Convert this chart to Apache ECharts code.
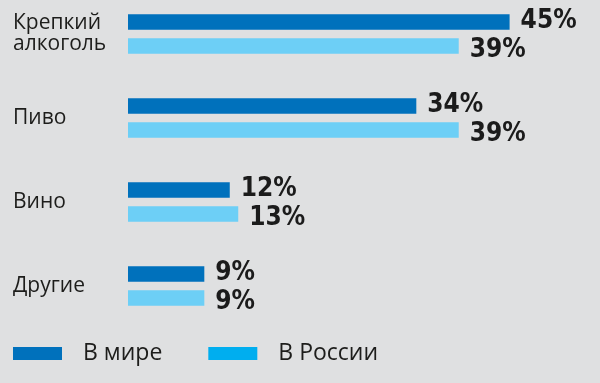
<!DOCTYPE html>
<html>
<head>
<meta charset="utf-8">
<script src="https://cdn.jsdelivr.net/npm/echarts@6/dist/echarts.min.js"></script>
<style>
html,body{margin:0;padding:0;background:#dfe0e1;}
#c{width:600px;height:383px;}
</style>
</head>
<body>
<div id="c"></div>
<script>
const categories = ['Крепкий\nалкоголь', 'Пиво', 'Вино', 'Другие'];
const seriesNames = ['В мире', 'В России'];
const world = [45, 34, 12, 9];
const russia = [39, 39, 13, 9];

const chart = echarts.init(document.getElementById('c'));
const labelFont = {
  show: true,
  position: 'right',
  distance: 11,
  formatter: '{c}%',
  fontFamily: 'DejaVu Sans Condensed',
  fontWeight: 'bold',
  fontSize: 26,
  color: '#1b1b1b'
};
chart.setOption({
  backgroundColor: '#dfe0e1',
  animation: false,
  grid: { left: 128, width: 424, top: 34, bottom: 97, containLabel: false },
  xAxis: { type: 'value', min: 0, max: 50, show: false },
  yAxis: {
    type: 'category',
    data: categories,
    inverse: true,
    boundaryGap: false,
    axisLine: { show: false },
    axisTick: { show: false },
    splitLine: { show: false },
    axisLabel: {
      align: 'left',
      margin: 115,
      fontFamily: 'Open Sans',
      fontSize: 21,
      lineHeight: 21,
      color: '#1d1d1b'
    }
  },
  legend: {
    left: 13,
    top: 342,
    padding: 0,
    itemWidth: 49,
    itemHeight: 13,
    itemGap: 46,
    icon: 'rect',
    textStyle: { fontFamily: 'Open Sans', fontSize: 23, color: '#1d1d1b', padding: [0, 0, 0, 16] },
    data: [
      { name: seriesNames[0], itemStyle: { color: '#0071bc' } },
      { name: seriesNames[1], itemStyle: { color: '#00aeef' } }
    ]
  },
  series: [
    {
      name: seriesNames[0], type: 'bar', data: world,
      barWidth: 15.5, barGap: '55%',
      itemStyle: { color: '#0071bc' },
      label: Object.assign({}, labelFont, { offset: [0, -1] })
    },
    {
      name: seriesNames[1], type: 'bar', data: russia,
      barWidth: 15.5, barGap: '55%',
      itemStyle: { color: '#6dcff6' },
      label: Object.assign({}, labelFont, { offset: [0, 4] })
    }
  ]
});
</script>
</body>
</html>
